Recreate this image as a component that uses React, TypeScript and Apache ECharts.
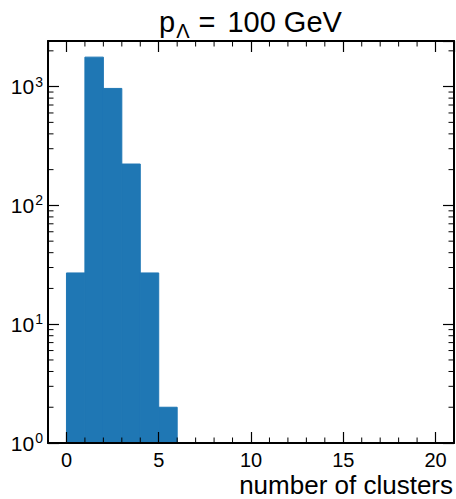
import React, { useEffect, useRef } from 'react';
import * as echarts from 'echarts';

// ---- data ----
const binEdges = [0, 1, 2, 3, 4, 5, 6];
const counts = [27, 1770, 965, 223, 27, 2];
const xRange = [-1, 21];
const yRange = [1, 2420];
const xMajorStep = 5;
const titleMain = 'p';
const titleSub = 'Λ';
const titleRest = '100 GeV';
const xLabel = 'number of clusters';

const FONT = "'Liberation Sans', Arial, Helvetica, sans-serif";

export default function App() {
  const ref = useRef<HTMLDivElement>(null);

  useEffect(() => {
    if (!ref.current) return;
    const chart = echarts.init(ref.current, null, { renderer: 'svg' });

    const histData = counts.map((c, i) => [binEdges[i], binEdges[i + 1], c]);

    const xMajorLabel = (v: number) => (Math.abs(v % xMajorStep) < 1e-9 && v >= 0 && v <= 20 ? String(v) : '');
    const yLabel = (v: number) => {
      const l = Math.log10(v);
      const e = Math.round(l);
      if (Math.abs(l - e) > 1e-6) return '';
      return `{b|10}{s|${e}}`;
    };

    const axisLine = { show: true, onZero: false, lineStyle: { color: '#000', width: 2 } };
    const commonX = {
      type: 'value' as const,
      min: xRange[0],
      max: xRange[1],
      splitLine: { show: false },
      axisLine,
      axisTick: { show: true, inside: true, length: 11, lineStyle: { color: '#000', width: 1.2 } },
      z: 5,
    };
    const commonY = {
      type: 'log' as const,
      logBase: 10,
      min: yRange[0],
      max: yRange[1],
      splitLine: { show: false },
      axisLine,
      axisTick: { show: true, inside: true, length: 11, lineStyle: { color: '#000', width: 1.2 } },
      z: 5,
    };

    const tBase = { fontFamily: FONT, color: '#000', fontWeight: 'normal' as const };

    chart.setOption({
      animation: false,
      backgroundColor: '#fff',
      title: [
        {
          text: `{m|${titleMain}}{sub|${titleSub}}{e|=}{m|${titleRest}}`,
          left: 154,
          top: 2,
          textStyle: {
            fontWeight: 'normal',
            rich: {
              m: { ...tBase, fontSize: 29, lineHeight: 34, verticalAlign: 'top' },
              sub: { ...tBase, fontSize: 20, lineHeight: 20, verticalAlign: 'bottom', padding: [16, 1, 0, 1] },
              e: { ...tBase, fontSize: 29, lineHeight: 34, verticalAlign: 'top', padding: [0, 12, 0, 8] },
            },
          },
        },
        {
          text: xLabel,
          right: 3,
          top: 472,
          padding: 0,
          textStyle: { ...tBase, fontSize: 26, lineHeight: 26 },
        },
      ],
      grid: { left: 48, right: 2, top: 41, bottom: 56 },
      xAxis: [
        {
          ...commonX,
          position: 'bottom',
          axisLabel: {
            show: true,
            formatter: xMajorLabel,
            fontSize: 20,
            lineHeight: 20,
            fontFamily: FONT,
            color: '#000',
            margin: 7,
            showMinLabel: false,
            showMaxLabel: false,
          },
        },
        {
          ...commonX,
          position: 'top',
          axisLabel: { show: false },
        },
      ],
      yAxis: [
        {
          ...commonY,
          position: 'left',
          axisLabel: {
            show: true,
            formatter: yLabel,
            margin: 5,
            showMaxLabel: false,
            rich: {
              b: { fontSize: 21, fontFamily: FONT, color: '#000', lineHeight: 24, verticalAlign: 'middle' },
              s: { fontSize: 14, fontFamily: FONT, color: '#000', lineHeight: 24, verticalAlign: 'top', padding: [0, 0, 10, 1] },
            },
          },
        },
        {
          ...commonY,
          position: 'right',
          axisLabel: { show: false },
        },
      ],
      series: [
        {
          type: 'custom',
          xAxisIndex: 0,
          yAxisIndex: 0,
          z: 2,
          encode: { x: [0, 1], y: 2 },
          data: histData,
          renderItem: (params: any, api: any) => {
            const x0 = api.value(0);
            const x1 = api.value(1);
            const c = api.value(2);
            const p0 = api.coord([x0, c]);
            const p1 = api.coord([x1, yRange[0]]);
            return {
              type: 'rect',
              shape: { x: p0[0], y: p0[1], width: p1[0] - p0[0], height: p1[1] - p0[1] },
              style: { fill: '#1f77b4', stroke: '#1f77b4', lineWidth: 1 },
            };
          },
        },
      ],
    });

    // minor ticks (integers on x, 2..9 per decade on log y)
    const gx = (v: number) => chart.convertToPixel({ xAxisIndex: 0 }, v) as number;
    const gy = (v: number) => chart.convertToPixel({ yAxisIndex: 0 }, v) as number;
    const left = gx(xRange[0]);
    const right = gx(xRange[1]);
    const top = gy(yRange[1]);
    const bottom = gy(yRange[0]);
    const minorLen = 5.5;
    const lines: any[] = [];
    const lineStyle = { stroke: '#000', lineWidth: 1 };
    for (let v = Math.ceil(xRange[0]) + 1; v < xRange[1]; v++) {
      if (v % xMajorStep === 0) continue;
      const px = gx(v);
      lines.push({ type: 'line', z: 10, shape: { x1: px, y1: bottom, x2: px, y2: bottom - minorLen }, style: lineStyle });
      lines.push({ type: 'line', z: 10, shape: { x1: px, y1: top, x2: px, y2: top + minorLen }, style: lineStyle });
    }
    for (let d = 1; d < yRange[1]; d *= 10) {
      for (let k = 2; k <= 9; k++) {
        const v = k * d;
        if (v >= yRange[1]) continue;
        const py = gy(v);
        lines.push({ type: 'line', z: 10, shape: { x1: left, y1: py, x2: left + minorLen, y2: py }, style: lineStyle });
        lines.push({ type: 'line', z: 10, shape: { x1: right, y1: py, x2: right - minorLen, y2: py }, style: lineStyle });
      }
    }
    chart.setOption({ graphic: lines });

    return () => chart.dispose();
  }, []);

  return <div ref={ref} style={{ position: 'fixed', left: 0, top: 0, width: 456, height: 499 }} />;
}
